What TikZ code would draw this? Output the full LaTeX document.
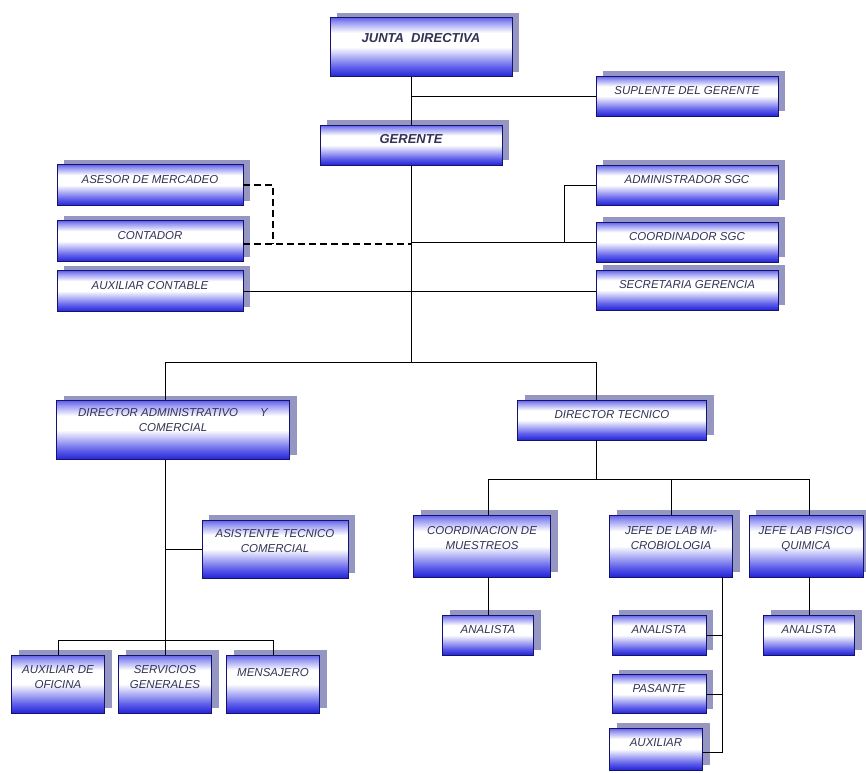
\documentclass[tikz,border=0pt]{standalone}
\usepackage{fontspec}
\setmainfont{Liberation Sans}
\usetikzlibrary{shadows,calc}
\definecolor{boxdark}{RGB}{35,35,215}
\definecolor{boxblue}{RGB}{95,95,235}
\definecolor{boxedge}{RGB}{20,20,110}
\definecolor{shadowc}{RGB}{150,150,195}
\definecolor{textc}{RGB}{50,50,85}
\pgfdeclareverticalshading{cargo}{100bp}{color(0bp)=(boxdark); color(25bp)=(boxdark); color(33bp)=(boxblue); color(50bp)=(white); color(62bp)=(white); color(71bp)=(boxblue!65); color(75bp)=(boxblue); color(100bp)=(boxblue)}

\begin{document}
\begin{tikzpicture}[x=1pt,y=1pt]
                    \tikzstyle{cargo}=[draw=boxedge, line width=0.6pt, shade, shading=cargo, minimum height=40pt, inner sep=1pt, text depth=12pt, align=center, text=textc, font=\fontsize{11.5}{15}\selectfont\itshape, general shadow={fill=shadowc, shadow xshift=7pt, shadow yshift=5pt}]
                    \tikzstyle{jefe}=[cargo, font=\fontsize{13}{15}\selectfont\bfseries\itshape]
                    \tikzstyle{linea}=[black, line width=0.8pt]
                    \tikzstyle{punteada}=[black, line width=2.2pt, dash pattern=on 7pt off 4pt]
                    \useasboundingbox (0,0) rectangle (866,-772);
                    % nivel directivo
                    \node [jefe, minimum width=182pt, minimum height=59pt, text depth=18pt] (junta) at (421,-47) {JUNTA~~DIRECTIVA};
                    \node [cargo, minimum width=182pt] (suplente) at (687,-96) {SUPLENTE DEL GERENTE};
                    \node [jefe, minimum width=182pt] (gerente) at (411,-145) {GERENTE};
                    % staff
                    \node [cargo, minimum width=186pt, minimum height=41pt] (asesor) at (150,-185) {ASESOR DE MERCADEO};
                    \node [cargo, minimum width=186pt, minimum height=41pt] (contador) at (150,-241) {CONTADOR};
                    \node [cargo, minimum width=186pt, minimum height=41pt] (auxcont) at (150,-291) {AUXILIAR CONTABLE};
                    \node [cargo, minimum width=182pt] (admsgc) at (687,-185) {ADMINISTRADOR SGC};
                    \node [cargo, minimum width=182pt] (coordsgc) at (687,-242) {COORDINADOR SGC};
                    \node [cargo, minimum width=182pt] (secret) at (687,-290) {SECRETARIA GERENCIA};
                    % direcciones
                    \node [cargo, minimum width=233pt, minimum height=59pt, text depth=20pt] (diradm) at (173,-430) {DIRECTOR ADMINISTRATIVO\hspace{22pt}Y\\COMERCIAL};
                    \node [cargo, minimum width=189pt] (dirtec) at (612,-420) {DIRECTOR TECNICO};
                    \node [cargo, minimum width=146pt, minimum height=58pt, text depth=16pt] (asist) at (275,-549) {ASISTENTE TECNICO\\COMERCIAL};
                    \node [cargo, minimum width=137pt, minimum height=62pt, text depth=16pt] (coordm) at (482,-546) {COORDINACION DE\\MUESTREOS};
                    \node [cargo, minimum width=123pt, minimum height=62pt, text depth=16pt] (jefemi) at (671,-546) {JEFE DE LAB MI-\\CROBIOLOGIA};
                    \node [cargo, minimum width=114pt, minimum height=62pt, text depth=16pt] (jefefq) at (806,-546) {JEFE LAB FISICO\\QUIMICA};
                    \node [cargo, minimum width=93pt, minimum height=58pt, text depth=14pt] (auxof) at (58,-684) {AUXILIAR DE\\OFICINA};
                    \node [cargo, minimum width=93pt, minimum height=58pt, text depth=14pt] (servgen) at (165,-684) {SERVICIOS\\GENERALES};
                    \node [cargo, minimum width=93pt, minimum height=58pt, text depth=24pt] (mensaj) at (273,-684) {MENSAJERO};
                    \node [cargo, minimum width=91pt] (anam) at (488,-635) {ANALISTA};
                    \node [cargo, minimum width=94pt] (anami) at (659,-635) {ANALISTA};
                    \node [cargo, minimum width=94pt, minimum height=39pt] (pasante) at (659,-694) {PASANTE};
                    \node [cargo, minimum width=93pt, minimum height=42pt] (auxil) at (656,-749) {AUXILIAR};
                    \node [cargo, minimum width=91pt] (anafq) at (809,-635) {ANALISTA};
                    % puntos de ramificacion
                    \coordinate (rama) at (411,-362);
                    \coordinate (ramaadm) at (165,-640);
                    \coordinate (ramatec) at (596,-479);
                    \coordinate (vmi) at (722,-752);
                    % conectores
                    \draw [linea] (gerente.north |- junta.south) -- (gerente.north);
                    \draw [linea] (gerente.north |- suplente.west) -- (suplente.west);
                    \draw [linea] (gerente.south) -- (rama);
                    \draw [punteada] (asesor.east) -| ($(contador.east)+(30,-3)$);
                    \draw [punteada] ($(contador.east)+(0,-3)$) -- ($(contador.east -| gerente.south)+(0,-3)$);
                    \draw [linea] (coordsgc.west) -- (coordsgc.west -| gerente.south);
                    \draw [linea] (admsgc.west) -- ++(-31,0) |- (coordsgc.west);
                    \draw [linea] (auxcont.east) -- (auxcont.east -| secret.west);
                    \draw [linea] (diradm.north -| ramaadm) |- (rama) -| (dirtec.north -| ramatec);
                    % direccion administrativa
                    \draw [linea] (diradm.south -| ramaadm) -- (ramaadm);
                    \draw [linea] (asist.west) -- (asist.west -| ramaadm);
                    \draw [linea] (auxof.north) |- (ramaadm) -| (mensaj.north);
                    \draw [linea] (servgen.north) -- (ramaadm);
                    % direccion tecnica
                    \draw [linea] (dirtec.south -| ramatec) -- (ramatec);
                    \draw [linea] (coordm.north -| anam.north) |- (ramatec) -| (jefefq.north -| anafq.north);
                    \draw [linea] (jefemi.north) -- (jefemi.north |- ramatec);
                    \draw [linea] (anam.north |- coordm.south) -- (anam.north);
                    \draw [linea] (anafq.north |- jefefq.south) -- (anafq.north);
                    \draw [linea] (jefemi.south -| vmi) -- (vmi) -- (auxil.east |- vmi);
                    \draw [linea] (anami.east) -- (anami.east -| vmi);
                    \draw [linea] (pasante.east) -- (pasante.east -| vmi);
                    % \draw [linea] (auxil.east) -- (vmi);
\end{tikzpicture}
\end{document}
